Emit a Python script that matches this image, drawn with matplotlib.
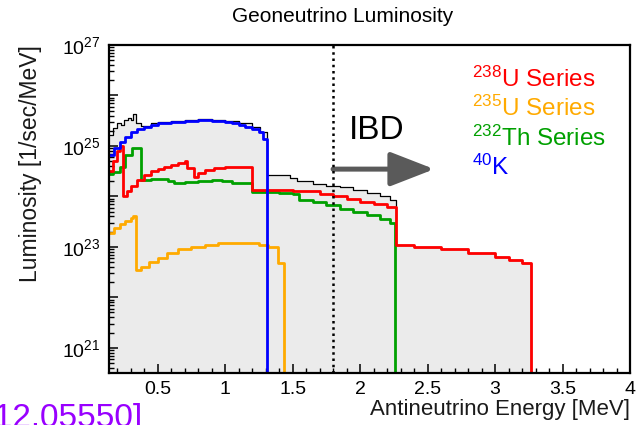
import numpy as np
import matplotlib
matplotlib.use("Agg")
import matplotlib.pyplot as plt
from matplotlib.ticker import FixedLocator, FuncFormatter, LogLocator, NullFormatter
from matplotlib.patches import FancyArrowPatch

plt.rcParams['font.family'] = ['Liberation Sans', 'DejaVu Sans']
plt.rcParams['mathtext.fontset'] = 'custom'
plt.rcParams['mathtext.rm'] = 'Liberation Sans'
plt.rcParams['mathtext.it'] = 'Liberation Sans:italic'
plt.rcParams['mathtext.bf'] = 'Liberation Sans:bold'

# bin start energies (MeV), last entry = spectrum endpoint
k40_E = [0.14, 0.18, 0.22, 0.26, 0.30, 0.35, 0.40, 0.45, 0.50, 0.60, 0.70, 0.80,
         0.90, 1.00, 1.05, 1.10, 1.15, 1.20, 1.25, 1.28, 1.311]
k40_L = [6.6e24, 8.9e24, 1.2e25, 1.5e25, 1.86e25, 2.14e25, 2.4e25, 2.63e25, 2.82e25,
         3.0e25, 3.16e25, 3.24e25, 3.16e25, 2.95e25, 2.82e25, 2.63e25, 2.4e25, 2.14e25,
         1.86e25, 1.4e25]

u238_E = [0.14, 0.17, 0.20, 0.22, 0.245, 0.27, 0.30, 0.35, 0.40, 0.45, 0.50, 0.55,
          0.60, 0.65, 0.70, 0.72, 0.77, 0.80, 0.85, 0.92, 1.00, 1.10, 1.20, 1.30,
          1.40, 1.50, 1.60, 1.70, 1.80, 1.90, 2.00, 2.10, 2.20, 2.27, 2.40, 2.60,
          2.80, 3.00, 3.10, 3.20, 3.27]
u238_L = [3.2e24, 5.0e24, 7.9e24, 1.0e25, 1.0e24, 1.26e24, 1.58e24, 2.1e24, 2.6e24,
          3.2e24, 3.5e24, 3.9e24, 4.2e24, 4.6e24, 5.0e24, 3.6e24, 2.45e24, 2.95e24,
          3.4e24, 3.7e24, 3.8e24, 3.9e24, 1.32e24, 1.32e24, 1.32e24, 1.29e24, 1.26e24,
          1.12e24, 1.0e24, 8.9e23, 7.9e23, 7.1e23, 6.3e23, 1.1e23, 1.0e23, 8.9e22,
          7.6e22, 6.3e22, 5.5e22, 4.8e22]

th232_E = [0.14, 0.17, 0.22, 0.26, 0.31, 0.38, 0.45, 0.52, 0.58, 0.62, 0.70, 0.80,
           0.90, 0.98, 1.05, 1.12, 1.20, 1.30, 1.40, 1.50, 1.55, 1.65, 1.75, 1.85,
           1.95, 2.05, 2.15, 2.22, 2.26]
th232_L = [2.8e24, 3.1e24, 3.9e24, 6.6e24, 9.1e24, 2.14e24, 2.2e24, 2.24e24, 2.0e24,
           1.86e24, 1.9e24, 2.0e24, 2.1e24, 2.0e24, 1.86e24, 1.86e24, 1.23e24,
           1.2e24, 1.15e24, 1.1e24, 8.5e23, 7.6e23, 6.6e23, 5.6e23, 4.8e23, 4.2e23,
           3.5e23, 3.0e23]

u235_E = [0.14, 0.18, 0.22, 0.26, 0.30, 0.32, 0.34, 0.38, 0.44, 0.50, 0.57, 0.65,
          0.75, 0.85, 0.95, 1.05, 1.15, 1.25, 1.32, 1.39, 1.44]
u235_L = [1.9e23, 2.4e23, 2.8e23, 3.2e23, 3.7e23, 4.0e23, 3.5e22, 4.0e22, 5.0e22,
          6.0e22, 7.6e22, 8.9e22, 1.0e23, 1.1e23, 1.17e23, 1.2e23, 1.17e23, 1.1e23,
          1.0e23, 4.8e22]

total_E = [0.14, 0.17, 0.20, 0.23, 0.25, 0.28, 0.30, 0.32, 0.34, 0.38, 0.45, 0.50,
           0.60, 0.70, 0.80, 0.90, 1.00, 1.10, 1.20, 1.26, 1.311, 1.40, 1.48, 1.53,
           1.65, 1.75, 1.85, 1.95, 2.05, 2.15, 2.22, 2.27, 2.40, 2.60, 2.80, 3.00,
           3.10, 3.20, 3.27]
total_L = [1.66e25, 2.24e25, 2.8e25, 2.6e25, 3.2e25, 3.5e25, 3.3e25, 4.3e25, 2.8e25,
           2.5e25, 2.8e25, 2.95e25, 3.16e25, 3.3e25, 3.4e25, 3.3e25, 3.16e25, 2.8e25,
           2.4e25, 1.9e25, 2.6e24, 2.6e24, 2.35e24, 2.0e24, 1.8e24, 1.62e24, 1.5e24,
           1.35e24, 1.15e24, 1.0e24, 8.5e23, 1.1e23, 1.0e23, 8.9e22, 7.6e22, 6.3e22,
           5.5e22, 4.8e22]

ibd_threshold = 1.8
xlim = (0.14, 4.0)
ylim = (10**20.5, 1e27)

fig = plt.figure(figsize=(6.38, 4.25), dpi=100)
ax = fig.add_axes([109/638, 52/425, 521/638, 328/425])
ax.set_yscale('log')
ax.set_xlim(*xlim)
ax.set_ylim(*ylim)

def steps(E, L):
    return np.array(E), np.array(list(L) + [0.0])

x, y = steps(total_E, total_L)
ax.fill_between(x, np.where(y > 0, y, ylim[0]), ylim[0], step='post',
                color='#ebebeb', lw=0)
ax.plot(x, y, drawstyle='steps-post', color='black', lw=0.9)

for E, L, c in [(u235_E, u235_L, '#ffaa00'), (th232_E, th232_L, '#00a000'),
                (u238_E, u238_L, '#ff0000'), (k40_E, k40_L, '#0000ff')]:
    x, y = steps(E, L)
    ax.plot(x, y, drawstyle='steps-post', color=c, lw=2.0)

ax.axvline(ibd_threshold, color='black', ls=(0, (1, 1.5)), lw=1.8)

arrow = FancyArrowPatch((ibd_threshold, 3.47e24), (2.55, 3.47e24),
                        arrowstyle='-|>,head_length=2.7,head_width=1.05',
                        mutation_scale=10, color='#5a5a5a', lw=3.6,
                        shrinkA=0, shrinkB=0)
ax.add_patch(arrow)
ax.text(2.12, 2.0e25, 'IBD', fontsize=24, ha='center', va='center')

# axes styling (ROOT-like)
for s in ax.spines.values():
    s.set_linewidth(1.6)
ax.tick_params(which='both', direction='in', top=False, right=False)
ax.tick_params(which='major', length=6.5, width=1.1, labelsize=14, pad=6)
ax.tick_params(which='minor', length=3.5, width=1.0)

ax.xaxis.set_major_locator(FixedLocator(np.arange(0.5, 4.01, 0.5)))
ax.xaxis.set_minor_locator(FixedLocator(np.arange(0.2, 4.01, 0.1)))
ax.xaxis.set_major_formatter(FuncFormatter(lambda v, p: '%g' % v))

ax.yaxis.set_major_locator(LogLocator(base=10, numticks=20))
ax.yaxis.set_minor_locator(LogLocator(base=10, subs=np.arange(2, 10), numticks=20))
ax.yaxis.set_minor_formatter(NullFormatter())
ax.yaxis.set_major_formatter(FuncFormatter(
    lambda v, p: r'$\mathregular{10^{%d}}$' % round(np.log10(v))
    if round(np.log10(v)) % 2 == 1 else ''))

ax.set_xlabel('Antineutrino Energy [MeV]', fontsize=16, loc='right', color='#1a1a1a')
ax.xaxis.set_label_coords(1.0, -0.078)
ax.set_ylabel('Luminosity [1/sec/MeV]', fontsize=16.5, loc='top', color='#1a1a1a')
ax.yaxis.set_label_coords(-0.129, 1.0)

fig.text(343/638, 1 - 17/425, 'Geoneutrino Luminosity', fontsize=15,
         ha='center', va='center')

legend = [(r'$\mathregular{^{238}}$U Series', '#ff0000'),
          (r'$\mathregular{^{235}}$U Series', '#ffaa00'),
          (r'$\mathregular{^{232}}$Th Series', '#00a000'),
          (r'$\mathregular{^{40}}$K', '#0000ff')]
for i, (txt, c) in enumerate(legend):
    fig.text(472/638, 1 - (87 + 29.3*i)/425, txt, color=c, fontsize=17.5,
             ha='left', va='baseline')

fig.text(143/638, -2/425, '[arXiv:2112.05550]', color='#9900ff', fontsize=24,
         ha='right', va='baseline')

fig.savefig('out.png', dpi=100)
